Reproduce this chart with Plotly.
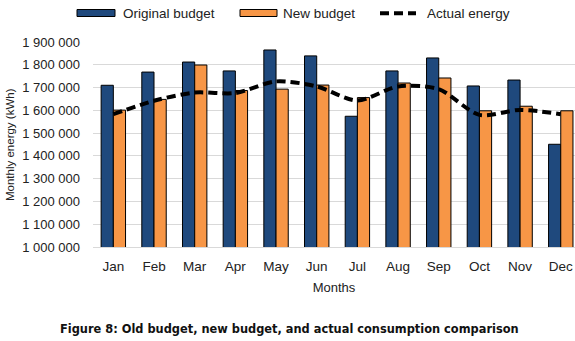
import plotly.graph_objects as go

months = ["Jan", "Feb", "Mar", "Apr", "May", "Jun", "Jul", "Aug", "Sep", "Oct", "Nov", "Dec"]
original_budget = [1710000, 1768000, 1812000, 1773000, 1865000, 1839000, 1574000, 1773000, 1830000, 1707000, 1733000, 1451000]
new_budget = [1601000, 1648000, 1799000, 1687000, 1693000, 1711000, 1656000, 1720000, 1742000, 1598000, 1618000, 1598000]
actual_energy = [1583000, 1642000, 1678000, 1676000, 1727000, 1705000, 1643000, 1705000, 1693000, 1580000, 1602000, 1583000]
y_ticks = [1000000, 1100000, 1200000, 1300000, 1400000, 1500000, 1600000, 1700000, 1800000, 1900000]
y_tick_labels = ["1 000 000", "1 100 000", "1 200 000", "1 300 000", "1 400 000",
                 "1 500 000", "1 600 000", "1 700 000", "1 800 000", "1 900 000"]

NAVY = "#1F497D"
ORANGE = "#F79646"
FONT = "Liberation Sans, Arial, sans-serif"

W, H = 575, 341
L, R, T, B = 93, 0, 42, 94

fig = go.Figure()
fig.add_bar(x=months, y=original_budget, name="Original budget",
            marker=dict(color=NAVY, line=dict(color="black", width=1)), showlegend=False)
fig.add_bar(x=months, y=new_budget, name="New budget",
            marker=dict(color=ORANGE, line=dict(color="black", width=1)), showlegend=False)
fig.add_scatter(x=months, y=actual_energy, name="Actual energy", mode="lines",
                line=dict(color="black", width=4, dash="9px,5px", shape="spline", smoothing=0.8),
                showlegend=False)

# custom legend (paper coords)
def px(x):
    return (x - L) / (W - L - R)

def py(y):
    return (H - B - y) / (H - T - B)

shapes = [
    dict(type="rect", xref="paper", yref="paper", x0=px(77), x1=px(115), y0=py(16.5), y1=py(9.5),
         fillcolor=NAVY, line=dict(color="black", width=1)),
    dict(type="rect", xref="paper", yref="paper", x0=px(240), x1=px(277), y0=py(16.5), y1=py(9.5),
         fillcolor=ORANGE, line=dict(color="black", width=1)),
    dict(type="line", xref="paper", yref="paper", x0=px(380), x1=px(416), y0=py(13.3), y1=py(13.3),
         line=dict(color="black", width=4, dash="9px,5px")),
]
annotations = [
    dict(text="Original budget", xref="paper", yref="paper", x=px(121), y=py(13),
         xanchor="left", yanchor="middle", showarrow=False, font=dict(family=FONT, size=13.5, color="#222")),
    dict(text="New budget", xref="paper", yref="paper", x=px(281), y=py(13),
         xanchor="left", yanchor="middle", showarrow=False, font=dict(family=FONT, size=13.5, color="#222")),
    dict(text="Actual energy", xref="paper", yref="paper", x=px(425), y=py(13),
         xanchor="left", yanchor="middle", showarrow=False, font=dict(family=FONT, size=13.5, color="#222")),
    dict(text="Monthly energy (kWh)", xref="paper", yref="paper", x=px(10), y=py(145),
         xanchor="center", yanchor="middle", textangle=-90, showarrow=False,
         font=dict(family=FONT, size=11.5, color="#222")),
    dict(text="<b>Figure 8: Old budget, new budget, and actual consumption comparison</b>",
         xref="paper", yref="paper", x=px(289), y=py(329),
         xanchor="center", yanchor="middle", showarrow=False,
         font=dict(family="DejaVu Sans, Verdana, sans-serif", size=11.4, color="#111")),
]

fig.update_layout(
    width=W, height=H,
    margin=dict(l=L, r=R, t=T, b=B),
    paper_bgcolor="white", plot_bgcolor="white",
    barmode="group", bargap=0.4, bargroupgap=0,
    shapes=shapes, annotations=annotations,
    font=dict(family=FONT, size=13, color="#222"),
)
fig.update_xaxes(
    range=[-0.5, 11.35], showgrid=False, showline=True, linecolor="#d9d9d9", linewidth=1,
    ticks="", ticklabelstandoff=7, tickfont=dict(family=FONT, size=13.5, color="#222"),
    title=dict(text="Months", font=dict(family=FONT, size=13, color="#222"), standoff=9),
)
fig.update_yaxes(
    range=[1000000, 1900000], tickvals=y_ticks, ticktext=y_tick_labels,
    showgrid=True, gridcolor="#d9d9d9", gridwidth=1, zeroline=False, showline=False,
    ticks="", ticklabelstandoff=12, tickfont=dict(family=FONT, size=13, color="#222"),
)

fig.write_html("out.html", config={"displayModeBar": False},
               post_script="document.body.style.margin='0';document.body.style.overflow='hidden';")
